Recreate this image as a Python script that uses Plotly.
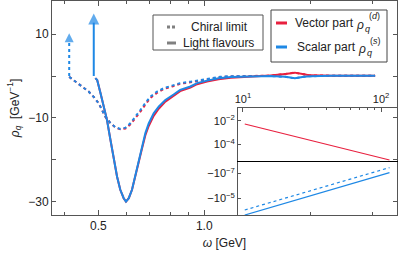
import plotly.graph_objects as go

# ---------------- data ----------------
# Light flavours (solid)
omega_light = [0.490, 0.496, 0.507, 0.518, 0.529, 0.541, 0.553, 0.565, 0.577, 0.590, 0.599,
               0.610, 0.623, 0.637, 0.651, 0.666, 0.680, 0.695, 0.718, 0.742, 0.775, 0.818,
               0.854, 0.913, 0.954, 1.018, 1.098, 1.19, 1.44, 1.54, 1.70, 1.81, 1.92, 2.0, 2.3, 3.06]
scalar_light = [-0.5, -0.95, -4.1, -7.3, -10.5, -15.2, -20.0, -24.0, -27.1, -29.1, -29.9,
                -29.1, -27.1, -23.6, -20.0, -16.8, -13.6, -11.3, -8.9, -7.3, -5.7, -4.4,
                -3.3, -2.5, -1.7, -1.1, -0.55, -0.25, 0.0, 0.0, -0.2, -0.55, -0.2, -0.05, 0.05, 0.07]
vector_light = [-0.5, -0.95, -4.1, -7.3, -10.5, -15.2, -20.0, -24.0, -27.1, -29.1, -29.9,
                -29.1, -27.1, -23.6, -20.0, -17.1, -14.1, -11.9, -9.5, -7.8, -6.1, -4.75,
                -3.6, -2.75, -1.95, -1.3, -0.75, -0.4, -0.05, 0.1, 0.5, 0.8, 0.4, 0.15, 0.07, 0.07]

# Chiral limit (dotted)
omega_chiral = [0.413, 0.425, 0.440, 0.454, 0.469, 0.485, 0.501, 0.512, 0.523, 0.541, 0.559,
                0.577, 0.597, 0.617, 0.637, 0.658, 0.680, 0.703, 0.734, 0.767, 0.810, 0.854,
                0.913, 0.975, 1.04, 1.11, 1.19, 1.44, 1.54, 1.70, 1.81, 1.92, 2.0, 2.3, 3.06]
scalar_chiral = [-0.2, -1.0, -1.75, -2.7, -3.7, -5.0, -6.5, -8.1, -9.7, -11.2, -12.2,
                 -12.6, -12.3, -11.2, -9.8, -8.1, -6.4, -4.9, -3.7, -2.9, -2.3, -1.7,
                 -1.35, -1.0, -0.55, -0.17, -0.05, 0.0, 0.0, -0.2, -0.55, -0.2, -0.05, 0.05, 0.07]
vector_chiral = [-0.2, -1.0, -1.75, -2.7, -3.7, -5.0, -6.5, -8.1, -9.7, -11.2, -12.3,
                 -12.7, -12.5, -11.5, -10.1, -8.5, -6.8, -5.2, -4.0, -3.1, -2.5, -1.85,
                 -1.5, -1.1, -0.65, -0.27, -0.1, 0.0, 0.1, 0.5, 0.8, 0.4, 0.15, 0.07, 0.07]

# delta peaks (arrows): chiral limit, light flavours
delta_omega = [0.413, 0.485]
delta_top = [10.2, 14.9]

# Inset (large omega)
omega_inset = [10.3, 115.0]
vector_inset = [5.3e-3, 4.7e-6]
scalar_inset_light = [2.2e-4, 8.9e-8]      # magnitude of negative values
scalar_inset_chiral = [8.7e-5, 3.5e-8]

x_major = [0.5, 1.0]
x_major_text = ["0.5", "1.0"]
x_minor = [0.4, 0.6, 0.7, 0.8, 0.9, 2.0, 3.0]
y_ticks = [-30, -20, -10, 0, 10]
y_ticks_text = ["\u221230", "", "\u221210", "", "10"]

RED = "#E8203F"
BLUE = "#1E88E5"
GRAY = "#808080"
AX = "#555555"
FONT = "Liberation Sans, Arial, sans-serif"

fig = go.Figure()

# main curves
fig.add_trace(go.Scatter(x=omega_chiral, y=vector_chiral, mode="lines",
                         line=dict(color=RED, width=2, dash="dot"), xaxis="x", yaxis="y"))
fig.add_trace(go.Scatter(x=omega_chiral, y=scalar_chiral, mode="lines",
                         line=dict(color=BLUE, width=2, dash="dot"), xaxis="x", yaxis="y"))
fig.add_trace(go.Scatter(x=omega_light, y=vector_light, mode="lines",
                         line=dict(color=RED, width=2), xaxis="x", yaxis="y"))
fig.add_trace(go.Scatter(x=omega_light, y=scalar_light, mode="lines",
                         line=dict(color=BLUE, width=2), xaxis="x", yaxis="y"))

# delta arrows: stems + heads
fig.add_trace(go.Scatter(x=[delta_omega[0], delta_omega[0]], y=[0, delta_top[0] - 2.0], mode="lines",
                         line=dict(color=BLUE, width=2, dash="dot")))
fig.add_trace(go.Scatter(x=[delta_omega[1], delta_omega[1]], y=[0, delta_top[1] - 2.2], mode="lines",
                         line=dict(color=BLUE, width=2)))
fig.add_trace(go.Scatter(x=delta_omega, y=delta_top, mode="markers",
                         marker=dict(symbol="arrow-up", size=[9, 11], color=BLUE, line=dict(width=0))))

# inset traces
fig.add_trace(go.Scatter(x=omega_inset, y=vector_inset, mode="lines",
                         line=dict(color=RED, width=1.2), xaxis="x2", yaxis="y2"))
fig.add_trace(go.Scatter(x=omega_inset, y=scalar_inset_chiral, mode="lines",
                         line=dict(color=BLUE, width=1.2, dash="dot"), xaxis="x3", yaxis="y3"))
fig.add_trace(go.Scatter(x=omega_inset, y=scalar_inset_light, mode="lines",
                         line=dict(color=BLUE, width=1.2), xaxis="x3", yaxis="y3"))

W, H = 399, 253
L, R, T, B = 52, 2, 1, 38
pw, ph = W - L - R, H - T - B


def px(x):
    return (x - L) / pw


def py(y):
    return (H - B - y) / ph


tickfont = dict(family=FONT, size=12, color="#222222")
insetfont = dict(family=FONT, size=11, color="#222222")

inset_x0 = px(238)
inset_mid = py(161.7)
inset_top = py(108)

fig.update_layout(
    width=W, height=H,
    margin=dict(l=L, r=R, t=T, b=B),
    paper_bgcolor="white", plot_bgcolor="rgba(0,0,0,0)",
    showlegend=False,
    font=dict(family=FONT, size=12, color="#222222"),
    xaxis=dict(type="log", range=[-0.433, 0.548], domain=[0, 1], automargin=False,
               tickvals=x_major, ticktext=x_major_text, ticks="inside", ticklen=5,
               tickcolor=AX, showline=True, linecolor=AX, linewidth=1, mirror="ticks",
               showgrid=False, zeroline=False, tickfont=tickfont,
               minor=dict(tickvals=x_minor, ticks="inside", ticklen=3, tickcolor=AX, showgrid=False),
               title=dict(text="<i>\u03c9</i> [GeV]", font=dict(family=FONT, size=12), standoff=6)),
    yaxis=dict(range=[-33.1, 17.86], domain=[0, 1], automargin=False,
               tickvals=y_ticks, ticktext=y_ticks_text, ticks="inside", ticklen=4,
               tickcolor=AX, showline=True, linecolor=AX, linewidth=1, mirror="ticks",
               showgrid=False, zeroline=False, tickfont=tickfont,
               title=dict(text="<i>\u03c1</i><sub><i>q</i></sub>  [GeV<sup>\u22121</sup>]",
                          font=dict(family=FONT, size=12), standoff=6)),
    xaxis2=dict(type="log", range=[0.964, 2.115], domain=[inset_x0, 1], anchor="y2", side="top",
                tickvals=[10, 100], ticktext=["10<sup>1</sup>", "10<sup>2</sup>"],
                ticks="inside", ticklen=4, tickcolor=AX, showline=True, linecolor=AX,
                showgrid=False, zeroline=False, tickfont=insetfont,
                minor=dict(tickvals=[20, 30, 40, 50, 60, 70, 80, 90], ticks="inside", ticklen=2,
                           tickcolor=AX, showgrid=False)),
    yaxis2=dict(type="log", range=[-5.47, -0.92], domain=[inset_mid, inset_top], anchor="x2",
                tickvals=[1e-2, 1e-4], ticktext=["10<sup>\u22122</sup>", "10<sup>\u22124</sup>"],
                ticks="inside", ticklen=3, tickcolor=AX, showline=True, linecolor=AX, mirror=True,
                showgrid=False, zeroline=False, tickfont=insetfont),
    xaxis3=dict(type="log", range=[0.964, 2.115], domain=[inset_x0, 1], anchor="y3", side="top",
                showticklabels=False, ticks="", showline=True, linecolor="black", linewidth=1.2,
                showgrid=False, zeroline=False),
    yaxis3=dict(type="log", range=[-3.66, -7.93], domain=[0, inset_mid], anchor="x3",
                tickvals=[1e-7, 1e-5], ticktext=["\u221210<sup>\u22127</sup>", "\u221210<sup>\u22125</sup>"],
                ticks="inside", ticklen=3, tickcolor=AX, showline=True, linecolor=AX, mirror=True,
                showgrid=False, zeroline=False, tickfont=insetfont),
)

# legend boxes
shapes = []
annotations = []
shapes.append(dict(type="rect", xref="paper", yref="paper", x0=px(153), x1=px(263), y0=py(50), y1=py(15),
                   line=dict(color="#555555", width=1), fillcolor="white"))
shapes.append(dict(type="rect", xref="paper", yref="paper", x0=px(271), x1=px(387), y0=py(62), y1=py(10),
                   line=dict(color="#444444", width=1), fillcolor="white"))
shapes.append(dict(type="line", xref="paper", yref="paper", x0=px(167), x1=px(176), y0=py(27), y1=py(27),
                   line=dict(color=GRAY, width=3, dash="3px,2px")))
shapes.append(dict(type="line", xref="paper", yref="paper", x0=px(167), x1=px(176), y0=py(43), y1=py(43),
                   line=dict(color=GRAY, width=3)))
shapes.append(dict(type="line", xref="paper", yref="paper", x0=px(276), x1=px(287), y0=py(23), y1=py(23),
                   line=dict(color=RED, width=3)))
shapes.append(dict(type="line", xref="paper", yref="paper", x0=px(276), x1=px(287), y0=py(47), y1=py(47),
                   line=dict(color=BLUE, width=3)))


def txt(text, x, y, size=12, xanchor="center"):
    annotations.append(dict(text=text, x=px(x), y=py(y), xref="paper", yref="paper",
                            xanchor=xanchor, yanchor="middle", showarrow=False,
                            font=dict(family=FONT, size=size, color="#222222")))


txt("Chiral limit", 219, 27)
txt("Light flavours", 218.5, 43)
txt("Vector part", 293, 23, xanchor="left")
txt("<i>\u03c1</i>", 360, 25)
txt("(<i>d</i>)", 374, 16, size=9)
txt("<i>q</i>", 367, 29, size=9)
txt("Scalar part", 295, 47, xanchor="left")
txt("<i>\u03c1</i>", 362, 49)
txt("(<i>s</i>)", 375, 41, size=9)
txt("<i>q</i>", 369, 53, size=9)

fig.update_layout(shapes=shapes, annotations=annotations)

fig.write_html("out.html", config={"displayModeBar": False},
               post_script="document.body.style.margin='0';")
